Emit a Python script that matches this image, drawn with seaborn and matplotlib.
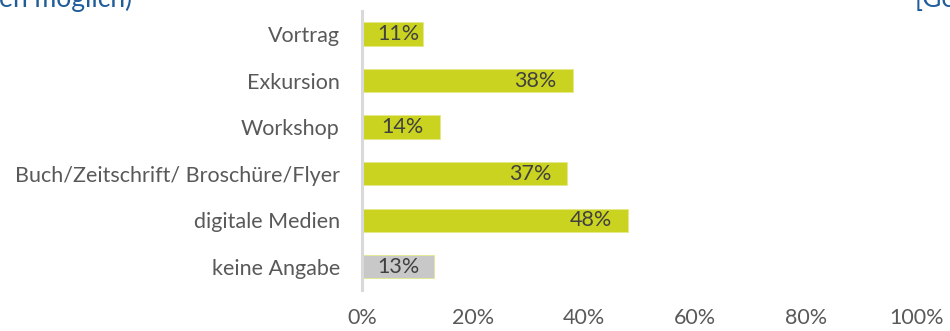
import matplotlib
matplotlib.use("Agg")
import matplotlib.pyplot as plt
import seaborn as sns
import pandas as pd

categories = ["Vortrag", "Exkursion", "Workshop", "Buch/Zeitschrift/ Broschüre/Flyer",
              "digitale Medien", "keine Angabe"]
values = [11, 38, 14, 37, 48, 13]
value_labels = ["11%", "38%", "14%", "37%", "48%", "13%"]
tick_values = [0, 20, 40, 60, 80, 100]
tick_labels = ["0%", "20%", "40%", "60%", "80%", "100%"]

green = "#CBD321"
grey = "#C8C8C8"
colors = [green, green, green, green, green, grey]
text_grey = "#595959"
blue = "#1F5C99"

sns.set_theme(style="white")
plt.rcParams["font.family"] = ["Lato", "DejaVu Sans"]

df = pd.DataFrame({"cat": categories, "val": values})

W, H = 950, 331
fig = plt.figure(figsize=(W / 100, H / 100), dpi=100)
ax = fig.add_axes([362 / W, 1 - 290 / H, (917 - 362) / W, (290 - 10.7) / H])

sns.barplot(data=df, y="cat", x="val", hue="cat", palette=colors, legend=False,
            orient="h", width=0.5, ax=ax, saturation=1,
            edgecolor="#E4E88A", linewidth=0.6)

ax.set_xlim(0, 100)
ax.set_ylim(5.5, -0.5)
ax.set_xlabel("")
ax.set_ylabel("")
ax.set_xticks(tick_values)
ax.set_xticklabels(tick_labels, fontsize=15.5, color=text_grey)
ax.tick_params(axis="x", length=0, pad=13)
ax.tick_params(axis="y", length=0, pad=16, labelsize=15.5, labelcolor=text_grey)
for s in ["top", "right", "bottom"]:
    ax.spines[s].set_visible(False)
ax.spines["left"].set_color("#D9D9D9")
ax.spines["left"].set_linewidth(2.2)
ax.grid(False)

for i, (v, lab) in enumerate(zip(values, value_labels)):
    cx = max(v - 6.7, 6.5)
    ax.text(cx, i, lab, ha="center", va="center", fontsize=15.5, color="#404040")

fig.text(132 / W, 1 - 7 / H, "(Mehrfachnennungen möglich)", ha="right",
         va="baseline", fontsize=19, color=blue)
fig.text(915 / W, 1 - 7 / H, "[Gesamt]", ha="left", va="baseline",
         fontsize=19, color=blue)

fig.savefig("out.png", dpi=100)
